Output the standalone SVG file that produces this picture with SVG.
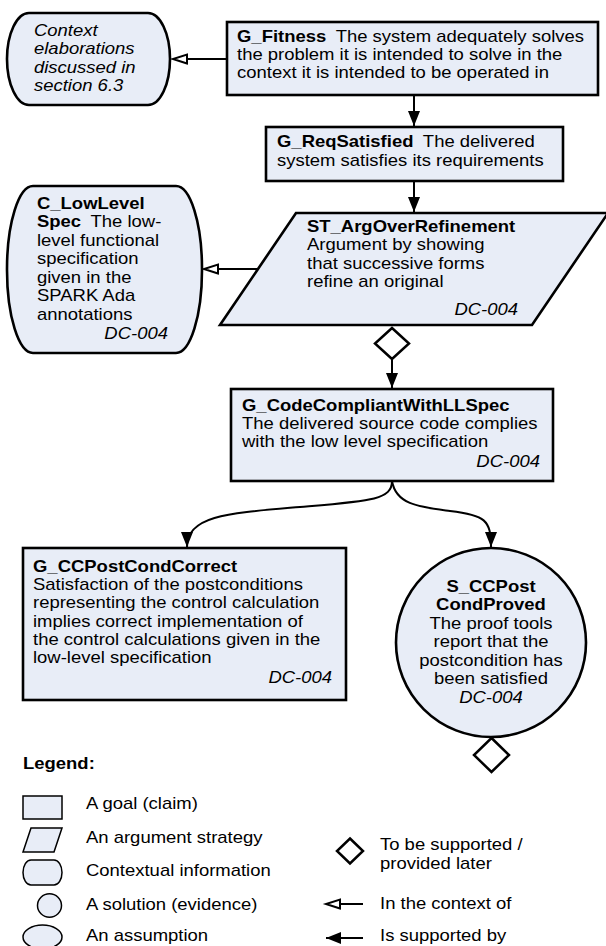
<svg xmlns="http://www.w3.org/2000/svg" width="606" height="946" viewBox="0 0 606 946">
<style>
.t{font-family:"Liberation Sans",Arial,Helvetica,sans-serif;font-size:16px;fill:#000}
.b{font-weight:bold}
.i{font-style:italic}
.m{text-anchor:middle}
.e{text-anchor:end}
.node{fill:#e8edf7;stroke:#000;stroke-width:2.6}
.lg{fill:#e8edf7;stroke:#000;stroke-width:1.5}
.dia{fill:#fff;stroke:#000;stroke-width:2.5}
.con{fill:none;stroke:#000;stroke-width:2}
</style>
<defs>
<marker id="solid" markerUnits="userSpaceOnUse" markerWidth="16" markerHeight="12" refX="15" refY="6" orient="auto" overflow="visible">
<path d="M0,0 L15,6 L0,12 Z" fill="#000"/>
</marker>
<marker id="hollow" markerUnits="userSpaceOnUse" markerWidth="16" markerHeight="12" refX="15" refY="6" orient="auto" overflow="visible">
<path d="M1,1.5 L15,6 L1,10.5 Z" fill="#fff" stroke="#000" stroke-width="2"/>
</marker>
</defs>

<g id="connectors">
<line class="con" x1="227" y1="59" x2="173" y2="59" marker-end="url(#hollow)"/>
<line class="con" x1="414" y1="95" x2="414" y2="126" marker-end="url(#solid)"/>
<line class="con" x1="414" y1="181" x2="414" y2="212" marker-end="url(#solid)"/>
<line class="con" x1="258" y1="269" x2="204" y2="269" marker-end="url(#hollow)"/>
<line class="con" x1="392" y1="359" x2="392" y2="388" marker-end="url(#solid)"/>
<path class="con" d="M392,481 C392,500 370,501 300,507 C230,513 187,515 187,547" marker-end="url(#solid)"/>
<path class="con" d="M392,481 C396,505 420,507 450,511 C485,515 491,520 491,547" marker-end="url(#solid)"/>
<polygon class="dia" points="392,328 409,343.5 392,359 375,343.5"/>
<polygon class="dia" points="491.5,738 509,755 491.5,772 474,755"/>
</g>

<g id="C_Context">
<rect class="node" x="7" y="13" width="163" height="92" rx="22" ry="46"/>
<g transform="translate(34 0) scale(1.155 1)">
<text class="t i" x="0" y="36">Context</text>
<text class="t i" x="0" y="54.5">elaborations</text>
<text class="t i" x="0" y="73">discussed in</text>
<text class="t i" x="0" y="91.5">section 6.3</text>
</g>
</g>

<g id="G_Fitness">
<rect class="node" x="227" y="22" width="371" height="73"/>
<g transform="translate(237 0) scale(1.155 1)">
<text class="t" x="0" y="42"><tspan class="b">G_Fitness</tspan><tspan dx="4"> The system adequately solves</tspan></text>
<text class="t" x="0" y="60">the problem it is intended to solve in the</text>
<text class="t" x="0" y="78">context it is intended to be operated in</text>
</g>
</g>

<g id="G_ReqSatisfied">
<rect class="node" x="266" y="127" width="297" height="54"/>
<g transform="translate(277 0) scale(1.155 1)">
<text class="t" x="0" y="147.5"><tspan class="b">G_ReqSatisfied</tspan><tspan dx="4"> The delivered</tspan></text>
<text class="t" x="0" y="166">system satisfies its requirements</text>
</g>
</g>

<g id="ST_ArgOverRefinement">
<polygon class="node" points="296,213 608,213 532,325 220,325"/>
<g transform="translate(307 0) scale(1.155 1)">
<text class="t b" x="0" y="232">ST_ArgOverRefinement</text>
<text class="t" x="0" y="250.5">Argument by showing</text>
<text class="t" x="0" y="269">that successive forms</text>
<text class="t" x="0" y="287.5">refine an original</text>
<text class="t i e" x="182.7" y="315">DC-004</text>
</g>
</g>

<g id="C_LowLevelSpec">
<rect class="node" x="7" y="186" width="195" height="167" rx="26" ry="83"/>
<g transform="translate(37 0) scale(1.155 1)">
<text class="t b" x="0" y="209">C_LowLevel</text>
<text class="t" x="0" y="227.5"><tspan class="b">Spec</tspan><tspan dx="4"> The low-</tspan></text>
<text class="t" x="0" y="246">level functional</text>
<text class="t" x="0" y="264.5">specification</text>
<text class="t" x="0" y="283">given in the</text>
<text class="t" x="0" y="301.5">SPARK Ada</text>
<text class="t" x="0" y="320">annotations</text>
<text class="t i e" x="113.4" y="339">DC-004</text>
</g>
</g>

<g id="G_CodeCompliantWithLLSpec">
<rect class="node" x="231" y="389" width="322" height="92"/>
<g transform="translate(242 0) scale(1.155 1)">
<text class="t b" x="0" y="411">G_CodeCompliantWithLLSpec</text>
<text class="t" x="0" y="429">The delivered source code complies</text>
<text class="t" x="0" y="447">with the low level specification</text>
<text class="t i e" x="258" y="467">DC-004</text>
</g>
</g>

<g id="G_CCPostCondCorrect">
<rect class="node" x="23" y="548" width="323" height="152"/>
<g transform="translate(33 0) scale(1.155 1)">
<text class="t b" x="0" y="572">G_CCPostCondCorrect</text>
<text class="t" x="0" y="590">Satisfaction of the postconditions</text>
<text class="t" x="0" y="608.5">representing the control calculation</text>
<text class="t" x="0" y="627">implies correct implementation of</text>
<text class="t" x="0" y="645">the control calculations given in the</text>
<text class="t" x="0" y="663.5">low-level specification</text>
<text class="t i e" x="258.9" y="683">DC-004</text>
</g>
</g>

<g id="S_CCPostCondProved">
<ellipse class="node" cx="491" cy="642.5" rx="95" ry="94.5"/>
<g transform="translate(491 0) scale(1.155 1)">
<text class="t b m" x="0" y="592">S_CCPost</text>
<text class="t b m" x="0" y="610.5">CondProved</text>
<text class="t m" x="0" y="629">The proof tools</text>
<text class="t m" x="0" y="647.5">report that the</text>
<text class="t m" x="0" y="666">postcondition has</text>
<text class="t m" x="0" y="684.5">been satisfied</text>
<text class="t i m" x="0" y="703">DC-004</text>
</g>
</g>

<g id="legend">
<g transform="translate(23 0) scale(1.155 1)">
<text class="t b" x="0" y="769">Legend:</text>
</g>
<rect class="lg" x="23" y="796" width="39" height="23"/>
<polygon class="lg" points="31,828 62,828 54,852 23,852"/>
<rect class="lg" x="23" y="860" width="39" height="25" rx="8" ry="12.5"/>
<ellipse class="lg" cx="49.5" cy="905.5" rx="12" ry="11.7"/>
<ellipse class="lg" cx="42.5" cy="937" rx="19.5" ry="12"/>
<g transform="translate(86 0) scale(1.155 1)">
<text class="t" x="0" y="809">A goal (claim)</text>
<text class="t" x="0" y="843">An argument strategy</text>
<text class="t" x="0" y="876.5">Contextual information</text>
<text class="t" x="0" y="910">A solution (evidence)</text>
<text class="t" x="0" y="941">An assumption</text>
</g>
<polygon class="dia" points="350,838.5 363,851 350,863.5 337,851"/>
<line class="con" x1="363" y1="904" x2="326" y2="904" marker-end="url(#hollow)"/>
<line class="con" x1="363" y1="938" x2="326" y2="938" marker-end="url(#solid)"/>
<g transform="translate(380 0) scale(1.155 1)">
<text class="t" x="0" y="850.5">To be supported /</text>
<text class="t" x="0" y="869">provided later</text>
<text class="t" x="0" y="909.5">In the context of</text>
<text class="t" x="0" y="941">Is supported by</text>
</g>
</g>
</svg>
